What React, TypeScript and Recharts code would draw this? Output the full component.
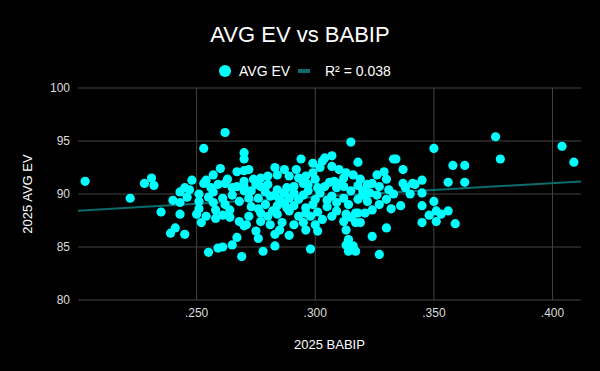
import React from 'react';
import {
  ScatterChart,
  Scatter,
  XAxis,
  YAxis,
  CartesianGrid,
  ReferenceLine,
} from 'recharts';

// 2025 BABIP and AVG EV per hitter
const babip = [
  0.203, 0.222, 0.231, 0.228, 0.232, 0.235, 0.24, 0.243, 0.243, 0.241, 0.239, 0.245, 0.243, 0.245, 0.247, 0.246, 0.248,
  0.262, 0.253, 0.27, 0.27, 0.26, 0.257, 0.254, 0.253, 0.267, 0.27, 0.263, 0.262, 0.265, 0.267, 0.27, 0.27, 0.27,
  0.257, 0.251, 0.251, 0.257, 0.261, 0.262, 0.264, 0.258, 0.251, 0.25, 0.254, 0.258, 0.252, 0.268, 0.27, 0.267,
  0.265, 0.261, 0.259, 0.255, 0.269,
  0.294, 0.292, 0.274, 0.277, 0.28, 0.284, 0.289, 0.293, 0.295, 0.277, 0.28, 0.284, 0.288, 0.291, 0.273, 0.272,
  0.276, 0.281, 0.285, 0.289, 0.293, 0.279, 0.284, 0.288, 0.273, 0.272, 0.277, 0.28, 0.284, 0.289, 0.293, 0.271,
  0.277, 0.281, 0.286, 0.291, 0.295, 0.275, 0.283, 0.285, 0.289, 0.283, 0.278,
  0.315, 0.318, 0.304, 0.307, 0.303, 0.299, 0.302, 0.307, 0.31, 0.313, 0.316, 0.296, 0.299, 0.3, 0.308, 0.312,
  0.297, 0.301, 0.304, 0.309, 0.312, 0.315, 0.297, 0.3, 0.307, 0.312, 0.296, 0.299, 0.305, 0.309, 0.313, 0.317,
  0.298, 0.303, 0.307, 0.312, 0.317, 0.296, 0.3, 0.313, 0.314, 0.313, 0.316, 0.314, 0.317, 0.298,
  0.333, 0.334, 0.337, 0.326, 0.329, 0.33, 0.319, 0.322, 0.324, 0.327, 0.331, 0.337, 0.338, 0.341, 0.34, 0.32,
  0.323, 0.318, 0.322, 0.33, 0.327, 0.324, 0.336, 0.318, 0.319, 0.33, 0.324, 0.327, 0.321,
  0.35, 0.358, 0.363, 0.356, 0.363, 0.342, 0.345, 0.345, 0.35, 0.345, 0.348, 0.351, 0.353, 0.356, 0.351, 0.345, 0.359,
  0.376, 0.378, 0.404, 0.409,
  0.256, 0.259, 0.265, 0.268, 0.264, 0.261, 0.255, 0.275, 0.279, 0.283, 0.287, 0.291, 0.295, 0.287, 0.282, 0.291,
  0.276, 0.296, 0.301, 0.305, 0.309, 0.302, 0.306, 0.31, 0.314, 0.318, 0.32, 0.326, 0.333, 0.332, 0.315, 0.287,
  0.283, 0.301, 0.276, 0.272,
];

const avgEv = [
  91.2, 89.6, 91.5, 91.0, 90.8, 88.3, 89.4, 89.2, 88.1, 86.8, 86.3, 86.2, 90.2, 90.6, 90.4, 89.7, 91.3,
  95.8, 94.3, 93.9, 93.3, 92.4, 91.8, 91.3, 91.0, 92.1, 92.2, 91.4, 91.0, 90.6, 90.7, 90.7, 90.3, 91.2,
  90.2, 90.0, 89.3, 89.2, 89.6, 89.0, 88.5, 88.5, 88.6, 88.1, 87.9, 87.7, 87.3, 87.4, 87.0, 85.9,
  85.2, 85.0, 84.9, 84.5, 84.1,
  93.3, 92.3, 91.4, 91.5, 91.7, 91.8, 91.7, 91.5, 91.0, 90.7, 90.9, 90.4, 90.6, 90.7, 90.3, 89.6,
  89.6, 89.8, 89.5, 89.6, 89.5, 89.0, 88.9, 88.7, 88.8, 87.9, 88.2, 87.9, 88.1, 88.4, 87.9, 87.1,
  87.4, 87.1, 87.3, 87.1, 87.3, 86.5, 86.2, 86.6, 86.1, 85.1, 84.6,
  94.9, 93.0, 93.4, 93.6, 93.1, 92.9, 92.5, 92.6, 92.3, 92.0, 91.8, 91.7, 92.0, 91.4, 91.2, 91.5,
  90.9, 90.6, 90.7, 90.6, 90.7, 90.3, 90.3, 89.5, 89.8, 89.6, 88.7, 89.0, 88.8, 88.4, 88.1, 88.2,
  87.9, 87.6, 87.9, 87.4, 87.3, 86.6, 87.1, 86.6, 85.7, 85.2, 85.1, 84.6, 84.6, 84.8,
  93.3, 93.3, 92.3, 91.8, 92.1, 91.4, 91.4, 90.9, 91.0, 90.7, 90.4, 91.0, 90.6, 91.0, 90.0, 90.3,
  90.1, 89.5, 89.3, 89.5, 89.0, 88.5, 88.9, 88.2, 87.3, 86.8, 86.0, 84.3, 88.2,
  94.3, 92.7, 92.7, 91.1, 91.1, 90.9, 91.3, 90.1, 89.3, 88.9, 88.0, 88.4, 88.1, 88.4, 87.4, 87.3, 87.2,
  95.4, 93.3, 94.5, 93.0,
  90.6, 90.9, 89.9, 89.3, 87.8, 88.0, 89.7, 90.9, 90.2, 89.9, 90.1, 90.1, 89.9, 89.1, 88.4, 88.9,
  88.6, 88.2, 88.3, 89.4, 89.2, 90.1, 91.1, 91.0, 89.0, 90.8, 89.9, 89.9, 90.0, 88.6, 87.8, 92.3,
  92.5, 86.5, 85.8, 92.3,
];

// linear fit, R² = 0.038
const trendBabip = [0.2, 0.412];
const trendEv = [88.42, 91.19];

const xTicks = [0.25, 0.3, 0.35, 0.4];
const yTicks = [80, 85, 90, 95, 100];

const points = babip.map((b, i) => ({ x: b, y: avgEv[i] }));

const FONT = '"Liberation Sans", Arial, sans-serif';
const CYAN = '#00ffff';
const TREND = '#0b6b6d';
const GRID = '#444';

export default function App() {
  return (
    <div
      style={{
        position: 'fixed',
        left: 0,
        top: 0,
        width: 600,
        height: 371,
        background: '#000',
        fontFamily: FONT,
      }}
    >
      <div
        style={{
          position: 'absolute',
          top: 24,
          left: 0,
          width: 600,
          textAlign: 'center',
          fontSize: 22,
          lineHeight: '22px',
          color: '#fff',
        }}
      >
        AVG EV vs BABIP
      </div>
      <div style={{ position: 'absolute', top: 64, left: 0, width: 600, height: 14, fontSize: 14, lineHeight: '14px', color: '#fff' }}>
        <span style={{ position: 'absolute', left: 218.5, top: 1, width: 12, height: 12, borderRadius: 6, background: CYAN }} />
        <span style={{ position: 'absolute', left: 239, top: 0 }}>AVG EV</span>
        <span style={{ position: 'absolute', left: 298, top: 5, width: 12, height: 4, background: TREND }} />
        <span style={{ position: 'absolute', left: 325, top: 0 }}>R² = 0.038</span>
      </div>
      <ScatterChart width={600} height={371} margin={{ top: 88, right: 19, bottom: 0, left: 0 }}>
        <CartesianGrid stroke={GRID} vertical={false} />
        <XAxis
          type="number"
          dataKey="x"
          domain={[0.2, 0.412]}
          ticks={xTicks}
          height={71}
          axisLine={false}
          tickLine={false}
          tick={{ fill: '#ddd', fontSize: 12, fontFamily: FONT }}
          tickFormatter={(v: number) => v.toFixed(3).replace(/^0/, '')}
          label={{ value: '2025 BABIP', position: 'center', dy: 9, fill: '#fff', fontSize: 13, fontFamily: FONT }}
        />
        <YAxis
          type="number"
          dataKey="y"
          domain={[80, 100]}
          ticks={yTicks}
          width={78}
          axisLine={false}
          tickLine={false}
          tick={{ fill: '#ddd', fontSize: 12, fontFamily: FONT }}
          label={{ value: '2025 AVG EV', angle: -90, position: 'center', dx: -12, fill: '#fff', fontSize: 13, fontFamily: FONT }}
        />
        {xTicks.map((t) => (
          <ReferenceLine key={t} x={t} stroke={GRID} />
        ))}
        <ReferenceLine
          segment={[
            { x: trendBabip[0], y: trendEv[0] },
            { x: trendBabip[1], y: trendEv[1] },
          ]}
          stroke={TREND}
          strokeWidth={2}
        />
        <Scatter
          data={points}
          isAnimationActive={false}
          shape={(p: any) => <circle cx={p.cx} cy={p.cy} r={4.6} fill={CYAN} />}
        />
      </ScatterChart>
    </div>
  );
}
